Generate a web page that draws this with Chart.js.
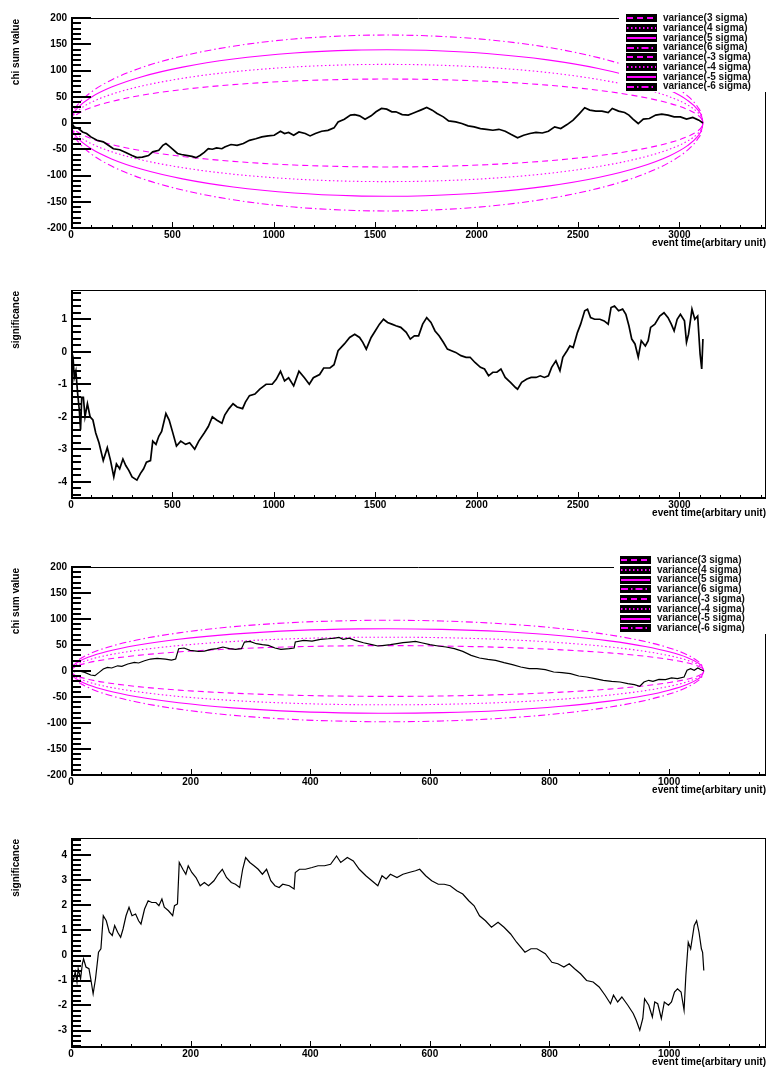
<!DOCTYPE html>
<html>
<head>
<meta charset="utf-8">
<script src="https://cdn.jsdelivr.net/npm/chart.js@4.4.1/dist/chart.umd.min.js"></script>
<style>
  body { margin: 0; background: #fff; }
  canvas.pad { position: absolute; left: 0; }
</style>
</head>
<body>
<canvas id="c1" class="pad" width="767" height="262" style="top:0px"></canvas>
<canvas id="c2" class="pad" width="767" height="273" style="top:262px"></canvas>
<canvas id="c3" class="pad" width="767" height="275" style="top:535px"></canvas>
<canvas id="c4" class="pad" width="767" height="260" style="top:810px"></canvas>
<script>
// ---- run 1 : long sample ----
const chiTime1 = [2, 16, 37, 57, 77, 98, 128, 159, 179, 209,
  240, 270, 301, 325, 352, 382, 403, 433, 453, 468,
  484, 508, 525, 545, 575, 596, 616, 636, 657, 677,
  697, 718, 744, 758, 789, 819, 850, 880, 911, 941,
  972, 1002, 1033, 1053, 1073, 1098, 1124, 1155, 1179, 1205,
  1236, 1267, 1297, 1317, 1348, 1378, 1399, 1423, 1450, 1480,
  1504, 1531, 1557, 1582, 1602, 1633, 1663, 1683, 1704, 1724,
  1754, 1781, 1805, 1836, 1862, 1897, 1927, 1958, 1988, 2019,
  2049, 2080, 2110, 2141, 2171, 2202, 2232, 2263, 2293, 2324,
  2354, 2385, 2415, 2446, 2476, 2507, 2533, 2558, 2588, 2618,
  2649, 2669, 2700, 2730, 2751, 2771, 2797, 2822, 2852, 2883,
  2913, 2944, 2974, 3005, 3035, 3066, 3096, 3116];
const chiSum1 = [0, -7.6, -10.6, -17, -20, -26.5, -33, -36, -41, -49,
  -51, -56, -62, -66, -65, -62, -55, -52, -42.5, -39,
  -44, -52, -58, -60, -62, -63.5, -66, -62, -56, -49,
  -50, -47.5, -49, -45.7, -41, -42.5, -39, -33, -30, -26.5,
  -24.6, -23.4, -15.7, -20, -18, -23.4, -17, -20, -24.6, -20,
  -15.7, -14, -9.3, 2, 7.3, 15, 16, 13.7, 7.3, 13.7,
  21.3, 27.7, 26.4, 21.3, 21.3, 16, 15, 18, 21.3, 24.5,
  29.6, 24.5, 18, 11.7, 4, 2, -1, -5.5, -7.4, -10.6,
  -12, -13.8, -12, -15.7, -22, -28, -23.4, -20, -18, -19,
  -15.7, -7.4, -10.6, -3, 5.4, 18, 29, 24.5, 22.6, 22.6,
  20, 27.7, 22.6, 20, 15, 7.3, -1, 7.3, 8.5, 15,
  16.8, 15, 11.7, 11.7, 7.3, 10.5, 5.4, 0];

const sigTime1 = [2, 10, 16, 24, 33, 41, 47, 53, 61, 69,
  81, 94, 108, 122, 138, 159, 179, 195, 211, 224,
  240, 256, 270, 285, 301, 325, 342, 358, 372, 392,
  403, 419, 433, 447, 468, 484, 500, 520, 541, 565,
  585, 610, 630, 657, 677, 697, 718, 744, 758, 779,
  799, 819, 846, 860, 880, 907, 931, 962, 992, 1012,
  1033, 1053, 1073, 1098, 1124, 1151, 1175, 1195, 1226, 1246,
  1277, 1297, 1317, 1348, 1374, 1399, 1423, 1439, 1456, 1480,
  1500, 1521, 1541, 1561, 1582, 1602, 1626, 1653, 1673, 1693,
  1714, 1734, 1754, 1775, 1795, 1815, 1836, 1856, 1876, 1897,
  1923, 1948, 1968, 1992, 2019, 2039, 2059, 2080, 2100, 2120,
  2141, 2167, 2192, 2202, 2222, 2248, 2269, 2293, 2314, 2334,
  2354, 2370, 2391, 2411, 2425, 2446, 2460, 2476, 2497, 2513,
  2533, 2547, 2562, 2582, 2608, 2629, 2649, 2663, 2680, 2700,
  2720, 2736, 2751, 2765, 2781, 2797, 2812, 2832, 2846, 2858,
  2879, 2903, 2924, 2944, 2960, 2974, 2989, 3005, 3025, 3035,
  3045, 3062, 3076, 3090, 3102, 3110, 3116];
const sigVal1 = [0.03, -0.17, -0.8, -0.6, -1.3, -1.8, -2.4, -1.4, -1.4, -2.0,
  -1.6, -2.0, -2.1, -2.5, -2.8, -3.35, -2.95, -3.35, -3.85, -3.45,
  -3.6, -3.3, -3.5, -3.65, -3.85, -3.95, -3.75, -3.6, -3.4, -3.35,
  -2.75, -2.85, -2.6, -2.45, -1.9, -2.1, -2.45, -2.9, -2.75, -2.85,
  -2.8, -3.0, -2.75, -2.5, -2.3, -2.0, -2.1, -2.2, -1.95, -1.75,
  -1.6, -1.7, -1.75, -1.55, -1.35, -1.3, -1.15, -1.0, -1.0, -0.85,
  -0.6, -0.9, -0.8, -1.05, -0.6, -0.8, -1.0, -0.8, -0.7, -0.5,
  -0.5, -0.4, 0.03, 0.24, 0.44, 0.54, 0.44, 0.29, 0.08, 0.44,
  0.64, 0.85, 1.0, 0.9, 0.85, 0.8, 0.75, 0.6, 0.39, 0.49,
  0.49, 0.85, 1.05, 0.9, 0.64, 0.49, 0.29, 0.08, 0.03, -0.02,
  -0.12, -0.17, -0.17, -0.33, -0.48, -0.53, -0.74, -0.63, -0.63, -0.53,
  -0.79, -0.94, -1.1, -1.15, -0.94, -0.84, -0.79, -0.79, -0.74, -0.79,
  -0.74, -0.48, -0.28, -0.58, -0.17, 0.03, 0.18, 0.13, 0.59, 0.85,
  1.26, 1.31, 1.05, 1.0, 1.0, 0.95, 0.85, 1.36, 1.41, 1.26,
  1.31, 1.15, 0.8, 0.39, 0.24, -0.17, 0.34, 0.18, 0.34, 0.75,
  0.85, 1.1, 1.2, 1.05, 0.85, 0.64, 1.0, 1.15, 0.95, 0.29,
  0.54, 1.31, 1.0, 1.1, -0.07, -0.53, 0.39];

// variance bands of run 1 (upper half, 3/4/5/6 sigma)
const bandTime1 = [0, 10, 40, 100, 200, 350, 550, 800, 1100, 1400, 1558,
  1750, 2050, 2350, 2600, 2800, 2950, 3040, 3090, 3110, 3116];
const var3s1 = [0, 9.5, 18.9, 29.5, 41.0, 52.9, 63.8, 73.1, 80.0, 83.3, 83.7,
  83.1, 79.4, 72.1, 62.3, 50.6, 37.6, 25.8, 15.2, 7.3, 0];
const var4s1 = [0, 12.6, 25.1, 39.4, 54.7, 70.5, 85.1, 97.5, 106.7, 111.1, 111.6,
  110.8, 105.9, 96.2, 83.0, 67.4, 50.2, 34.4, 20.3, 9.8, 0];
const var5s1 = [0, 15.8, 31.4, 49.2, 68.4, 88.2, 106.4, 121.9, 133.4, 138.9, 139.6,
  138.5, 132.4, 120.2, 103.8, 84.3, 62.7, 43.1, 25.4, 12.3, 0];
const var6s1 = [0, 18.9, 37.7, 59.0, 82.1, 105.8, 127.7, 146.3, 160.1, 166.6, 167.5,
  166.2, 158.9, 144.2, 124.5, 101.1, 75.2, 51.7, 30.5, 14.7, 0];

// ---- run 2 : short sample ----
const chiTime2 = [0, 6, 12, 23, 33, 40, 47, 54, 61, 68,
  78, 85, 95, 106, 113, 123, 133, 144, 158, 168,
  175, 180, 189, 199, 213, 223, 234, 244, 254, 265,
  275, 285, 290, 299, 310, 320, 330, 341, 351, 365,
  373, 375, 389, 403, 417, 430, 441, 448, 455, 465,
  475, 489, 503, 513, 524, 534, 545, 555, 565, 576,
  586, 600, 614, 627, 641, 655, 669, 683, 697, 710,
  724, 738, 752, 766, 779, 793, 807, 821, 835, 849,
  862, 876, 890, 904, 918, 931, 942, 951, 958, 966,
  973, 983, 994, 1004, 1014, 1025, 1030, 1036, 1042, 1048,
  1052, 1058];
const chiSum2 = [0, -1, 0.6, -2.6, -7.7, -9, -2.6, 3.8, 7, 5.8,
  10, 9, 13.4, 16.6, 15.4, 19.8, 23, 24.3, 23, 21,
  23, 42.9, 44.2, 39.7, 37.8, 38.4, 41.6, 42.9, 46.1, 42.9,
  41.6, 42.9, 55.7, 57, 52.5, 50.6, 49.3, 44.2, 41.6, 42.9,
  44.2, 55.7, 58.9, 57.6, 60.8, 62, 63.3, 64.6, 60.8, 63.3,
  58.9, 54.4, 50.6, 48.1, 49.3, 50.6, 52.5, 54.4, 55.7, 57,
  54.4, 50.6, 48.1, 46.1, 42.9, 37.8, 30.1, 25, 22.4, 20.5,
  16, 12.2, 7.7, 4.5, 4.5, 2.6, -1.9, -3.2, -5.1, -9.6,
  -11.5, -14.7, -17.9, -19.8, -21.1, -24.3, -26.2, -29.4, -21.1, -17.9,
  -19.8, -16, -16.6, -13.4, -14.7, -11.5, 1.3, 4.5, 1.3, 5.8,
  3.2, 0];

const sigTime2 = [1, 4, 7, 10, 12, 16, 19, 21, 25, 30,
  33, 37, 41, 46, 50, 54, 59, 64, 69, 73,
  78, 83, 87, 92, 97, 102, 108, 113, 117, 123,
  129, 135, 142, 147, 152, 156, 163, 170, 173, 178,
  181, 187, 192, 196, 202, 209, 216, 223, 230, 239,
  246, 253, 260, 268, 275, 282, 287, 292, 299, 306,
  313, 320, 327, 334, 341, 348, 354, 365, 373, 375,
  382, 392, 403, 413, 424, 434, 444, 451, 462, 472,
  482, 493, 503, 513, 520, 527, 534, 545, 555, 565,
  576, 583, 593, 603, 614, 624, 634, 645, 655, 665,
  674, 683, 693, 703, 714, 724, 735, 745, 759, 769,
  779, 793, 804, 814, 824, 833, 842, 852, 862, 873,
  883, 893, 902, 907, 914, 921, 931, 940, 945, 951,
  956, 959, 966, 972, 976, 981, 987, 992, 999, 1004,
  1009, 1014, 1020, 1025, 1028, 1032, 1036, 1042, 1046, 1050,
  1054, 1056, 1058];
const sigVal2 = [-0.8, -1.0, -0.66, -1.06, -0.53, -0.93, -0.33, -0.13, -0.46, -0.53,
  -0.93, -1.53, -0.93, 0.13, 0.27, 1.59, 1.39, 0.93, 0.8, 1.2,
  0.93, 0.73, 1.06, 1.59, 1.93, 1.59, 1.66, 1.39, 1.26, 1.86,
  2.19, 2.12, 2.12, 1.99, 2.26, 1.93, 1.79, 1.59, 1.99, 2.06,
  3.72, 3.45, 3.25, 3.59, 3.32, 3.12, 2.79, 2.92, 2.79, 2.99,
  3.25, 3.45, 3.12, 2.92, 2.85, 2.72, 3.45, 3.92, 3.72, 3.59,
  3.45, 3.25, 3.45, 2.99, 2.79, 2.72, 2.85, 2.79, 2.66, 3.32,
  3.45, 3.45, 3.52, 3.59, 3.59, 3.65, 3.98, 3.72, 3.92, 3.78,
  3.45, 3.19, 2.99, 2.79, 3.19, 3.06, 3.25, 3.12, 3.25, 3.32,
  3.39, 3.45, 3.19, 2.99, 2.85, 2.85, 2.79, 2.59, 2.46, 2.19,
  1.99, 1.59, 1.39, 1.13, 1.33, 1.13, 0.86, 0.53, 0.13, 0.27,
  0.27, 0.07, -0.27, -0.33, -0.46, -0.33, -0.53, -0.73, -1.0, -1.06,
  -1.26, -1.59, -1.93, -1.59, -1.86, -1.66, -1.99, -2.32, -2.59, -2.99,
  -2.52, -1.73, -1.99, -2.46, -1.86, -1.93, -2.52, -1.86, -1.99, -1.86,
  -1.46, -1.33, -1.46, -2.19, -0.8, 0.53, 0.27, 1.2, 1.39, 0.93,
  0.27, 0.13, -0.6];

const bandTime2 = [0, 3, 12, 30, 60, 110, 180, 270, 380, 480, 529,
  620, 720, 820, 900, 960, 1000, 1030, 1048, 1055, 1058];
const var3s2 = [0, 5.2, 10.3, 16.2, 22.6, 29.8, 36.7, 42.5, 46.8, 48.6, 48.8,
  48.1, 45.5, 40.7, 34.8, 28.3, 22.2, 15.7, 9.4, 5.2, 0];
const var4s2 = [0, 6.9, 13.8, 21.6, 30.1, 39.7, 48.9, 56.7, 62.4, 64.8, 65.0,
  64.1, 60.7, 54.3, 46.4, 37.7, 29.6, 20.9, 12.6, 6.9, 0];
const var5s2 = [0, 8.7, 17.2, 27.0, 37.6, 49.6, 61.1, 70.9, 78.1, 81.0, 81.3,
  80.1, 75.9, 67.9, 58.0, 47.2, 37.0, 26.1, 15.7, 8.7, 0];
const var6s2 = [0, 10.4, 20.7, 32.4, 45.1, 59.6, 73.3, 85.1, 93.7, 97.1, 97.6,
  96.1, 91.0, 81.5, 69.5, 56.6, 44.4, 31.3, 18.9, 10.4, 0];

// axis ticks
const sigmaLevels = [3, 4, 5, 6];
const xTicks1 = [0, 500, 1000, 1500, 2000, 2500, 3000];
const xTicks2 = [0, 200, 400, 600, 800, 1000];
const yTicksChi = [-200, -150, -100, -50, 0, 50, 100, 150, 200];
const yTicksSig1 = [-4, -3, -2, -1, 0, 1];
const yTicksSig2 = [-3, -2, -1, 0, 1, 2, 3, 4];

const FONT = 'bold 10px "Liberation Sans", Arial, sans-serif';
Chart.defaults.font.family = '"Liberation Sans", Arial, sans-serif';
Chart.defaults.font.size = 10;
Chart.defaults.font.weight = 'bold';
Chart.defaults.color = '#000';

// dashed / dotted / solid / dash-dot, one per sigma level
const dashes = [[6, 4], [1.5, 2.5], [], [7, 3, 1.5, 3]];

function pts(ts, vs) {
  return ts.map((t, i) => ({ x: t, y: vs[i] }));
}

function bandSets(ts, bands) {
  const out = [];
  [1, -1].forEach(sign => {
    bands.forEach((vs, k) => {
      out.push({
        label: 'variance(' + (sign * sigmaLevels[k]) + ' sigma)',
        data: ts.map((t, i) => ({ x: t, y: sign * vs[i] })),
        borderColor: '#ff00ff',
        borderWidth: 1.1,
        borderDash: dashes[k],
        pointRadius: 0,
        cubicInterpolationMode: 'monotone',
        fill: false
      });
    });
  });
  return out;
}

// ROOT-like frame: inward ticks, titles and the boxed legend
const rootFrame = {
  id: 'rootFrame',
  afterDatasetsDraw(chart, args, o) {
    const { ctx, chartArea: a, scales: { x, y } } = chart;
    const L = Math.round(a.left), R = Math.round(a.right);
    const T = Math.round(a.top), B = Math.round(a.bottom);
    ctx.save();
    ctx.strokeStyle = '#000';
    ctx.setLineDash([]);

    ctx.lineWidth = 1;
    ctx.beginPath();
    ctx.moveTo(L, T + 0.5); ctx.lineTo(R, T + 0.5);
    ctx.moveTo(R - 0.5, T); ctx.lineTo(R - 0.5, B);
    ctx.stroke();

    ctx.lineWidth = 2;
    ctx.beginPath();
    ctx.moveTo(L + 1, T); ctx.lineTo(L + 1, B + 1);
    ctx.moveTo(L, B); ctx.lineTo(R, B);
    ctx.stroke();

    const isMajor = (v, list) => list.some(m => Math.abs(m - v) < 1e-6);
    ctx.lineWidth = 2;
    ctx.beginPath();
    for (let k = Math.ceil(y.min / o.yMinor - 1e-9); k * o.yMinor <= y.max + 1e-9; k++) {
      const v = k * o.yMinor;
      const py = Math.round(y.getPixelForValue(v));
      const len = isMajor(v, o.yTicks) ? 20 : 10;
      ctx.moveTo(L, py); ctx.lineTo(L + len, py);
    }
    ctx.stroke();
    ctx.lineWidth = 1;
    ctx.beginPath();
    for (let k = 0; k * o.xMinor <= x.max + 1e-9; k++) {
      const v = k * o.xMinor;
      const px = Math.round(x.getPixelForValue(v)) + 0.5;
      const len = isMajor(v, o.xTicks) ? 6 : 3;
      ctx.moveTo(px, B); ctx.lineTo(px, B - len);
    }
    ctx.stroke();

    if (o.legend) {
      const g = o.legend;
      ctx.fillStyle = '#fff';
      ctx.fillRect(g.x, g.y, g.w, g.h);
      const items = chart.data.datasets.filter(d => d.label.startsWith('variance'));
      ctx.font = FONT;
      ctx.textBaseline = 'middle';
      ctx.textAlign = 'left';
      items.forEach((d, i) => {
        const ry = g.row0 + i * g.dy;
        ctx.fillStyle = '#000';
        ctx.fillRect(g.sx, Math.round(ry - 4), 31, 8);
        ctx.strokeStyle = '#ff00ff';
        ctx.lineWidth = 2;
        ctx.setLineDash(d.borderDash);
        ctx.beginPath();
        ctx.moveTo(g.sx + 1, Math.round(ry));
        ctx.lineTo(g.sx + 30, Math.round(ry));
        ctx.stroke();
        ctx.setLineDash([]);
        ctx.fillStyle = '#111';
        ctx.fillText(d.label, g.tx, ry);
      });
    }

    ctx.fillStyle = '#000';
    ctx.font = FONT;
    ctx.textAlign = 'right';
    ctx.textBaseline = 'alphabetic';
    ctx.fillText('event time(arbitary unit)', 766, B + 18);
    ctx.translate(16, T + 1);
    ctx.rotate(-Math.PI / 2);
    ctx.textBaseline = 'middle';
    ctx.fillText(o.yTitle, 0, 0);
    ctx.restore();
  }
};

function panel(p) {
  new Chart(document.getElementById(p.id), {
    type: 'line',
    data: { datasets: p.datasets },
    options: {
      responsive: false,
      animation: false,
      events: [],
      layout: { padding: { top: p.top, right: 1, left: 0, bottom: 0 } },
      elements: { point: { radius: 0 } },
      plugins: {
        legend: { display: false },
        tooltip: { enabled: false },
        rootFrame: {
          yTitle: p.yTitle, xTicks: p.xTicks, yTicks: p.yTicks,
          xMinor: p.xMinor, yMinor: p.yMinor, legend: p.legend
        }
      },
      scales: {
        x: {
          type: 'linear', min: 0, max: p.xMax,
          grid: { display: false, drawTicks: false },
          border: { display: false },
          ticks: { padding: 1, autoSkip: false, maxRotation: 0, callback: v => String(v) },
          afterBuildTicks: s => { s.ticks = p.xTicks.map(v => ({ value: v })); },
          afterFit: s => { s.height = p.H - p.bottom; }
        },
        y: {
          type: 'linear', min: p.yMin, max: p.yMax,
          grid: { display: false, drawTicks: false },
          border: { display: false },
          ticks: { padding: 4, autoSkip: false, callback: v => String(v) },
          afterBuildTicks: s => { s.ticks = p.yTicks.map(v => ({ value: v })); },
          afterFit: s => { s.width = 71; }
        }
      }
    },
    plugins: [rootFrame]
  });
}

function dataSet(label, ts, vs, w) {
  return { label, data: pts(ts, vs), borderColor: '#000', borderWidth: w, pointRadius: 0, tension: 0, fill: false };
}

panel({
  id: 'c1', H: 262, top: 18, bottom: 228, xMax: 3427, yMin: -200, yMax: 200,
  xTicks: xTicks1, yTicks: yTicksChi, xMinor: 100, yMinor: 10, yTitle: 'chi sum value',
  legend: { x: 619, y: 9, w: 148, h: 83, sx: 626, tx: 663, row0: 18.3, dy: 9.77 },
  datasets: [dataSet('chi sum', chiTime1, chiSum1, 1.7)]
    .concat(bandSets(bandTime1, [var3s1, var4s1, var5s1, var6s1]))
});

panel({
  id: 'c2', H: 273, top: 28, bottom: 236, xMax: 3427, yMin: -4.5, yMax: 1.9,
  xTicks: xTicks1, yTicks: yTicksSig1, xMinor: 100, yMinor: 0.2, yTitle: 'significance',
  datasets: [dataSet('significance', sigTime1, sigVal1, 1.7)]
});

panel({
  id: 'c3', H: 275, top: 32, bottom: 240, xMax: 1162, yMin: -200, yMax: 200,
  xTicks: xTicks2, yTicks: yTicksChi, xMinor: 50, yMinor: 10, yTitle: 'chi sum value',
  legend: { x: 614, y: 18, w: 153, h: 81, sx: 620, tx: 657, row0: 25, dy: 9.75 },
  datasets: [dataSet('chi sum', chiTime2, chiSum2, 1.2)]
    .concat(bandSets(bandTime2, [var3s2, var4s2, var5s2, var6s2]))
});

panel({
  id: 'c4', H: 260, top: 28, bottom: 237, xMax: 1162, yMin: -3.66, yMax: 4.7,
  xTicks: xTicks2, yTicks: yTicksSig2, xMinor: 50, yMinor: 0.2, yTitle: 'significance',
  datasets: [dataSet('significance', sigTime2, sigVal2, 1.2)]
});
</script>
</body>
</html>
